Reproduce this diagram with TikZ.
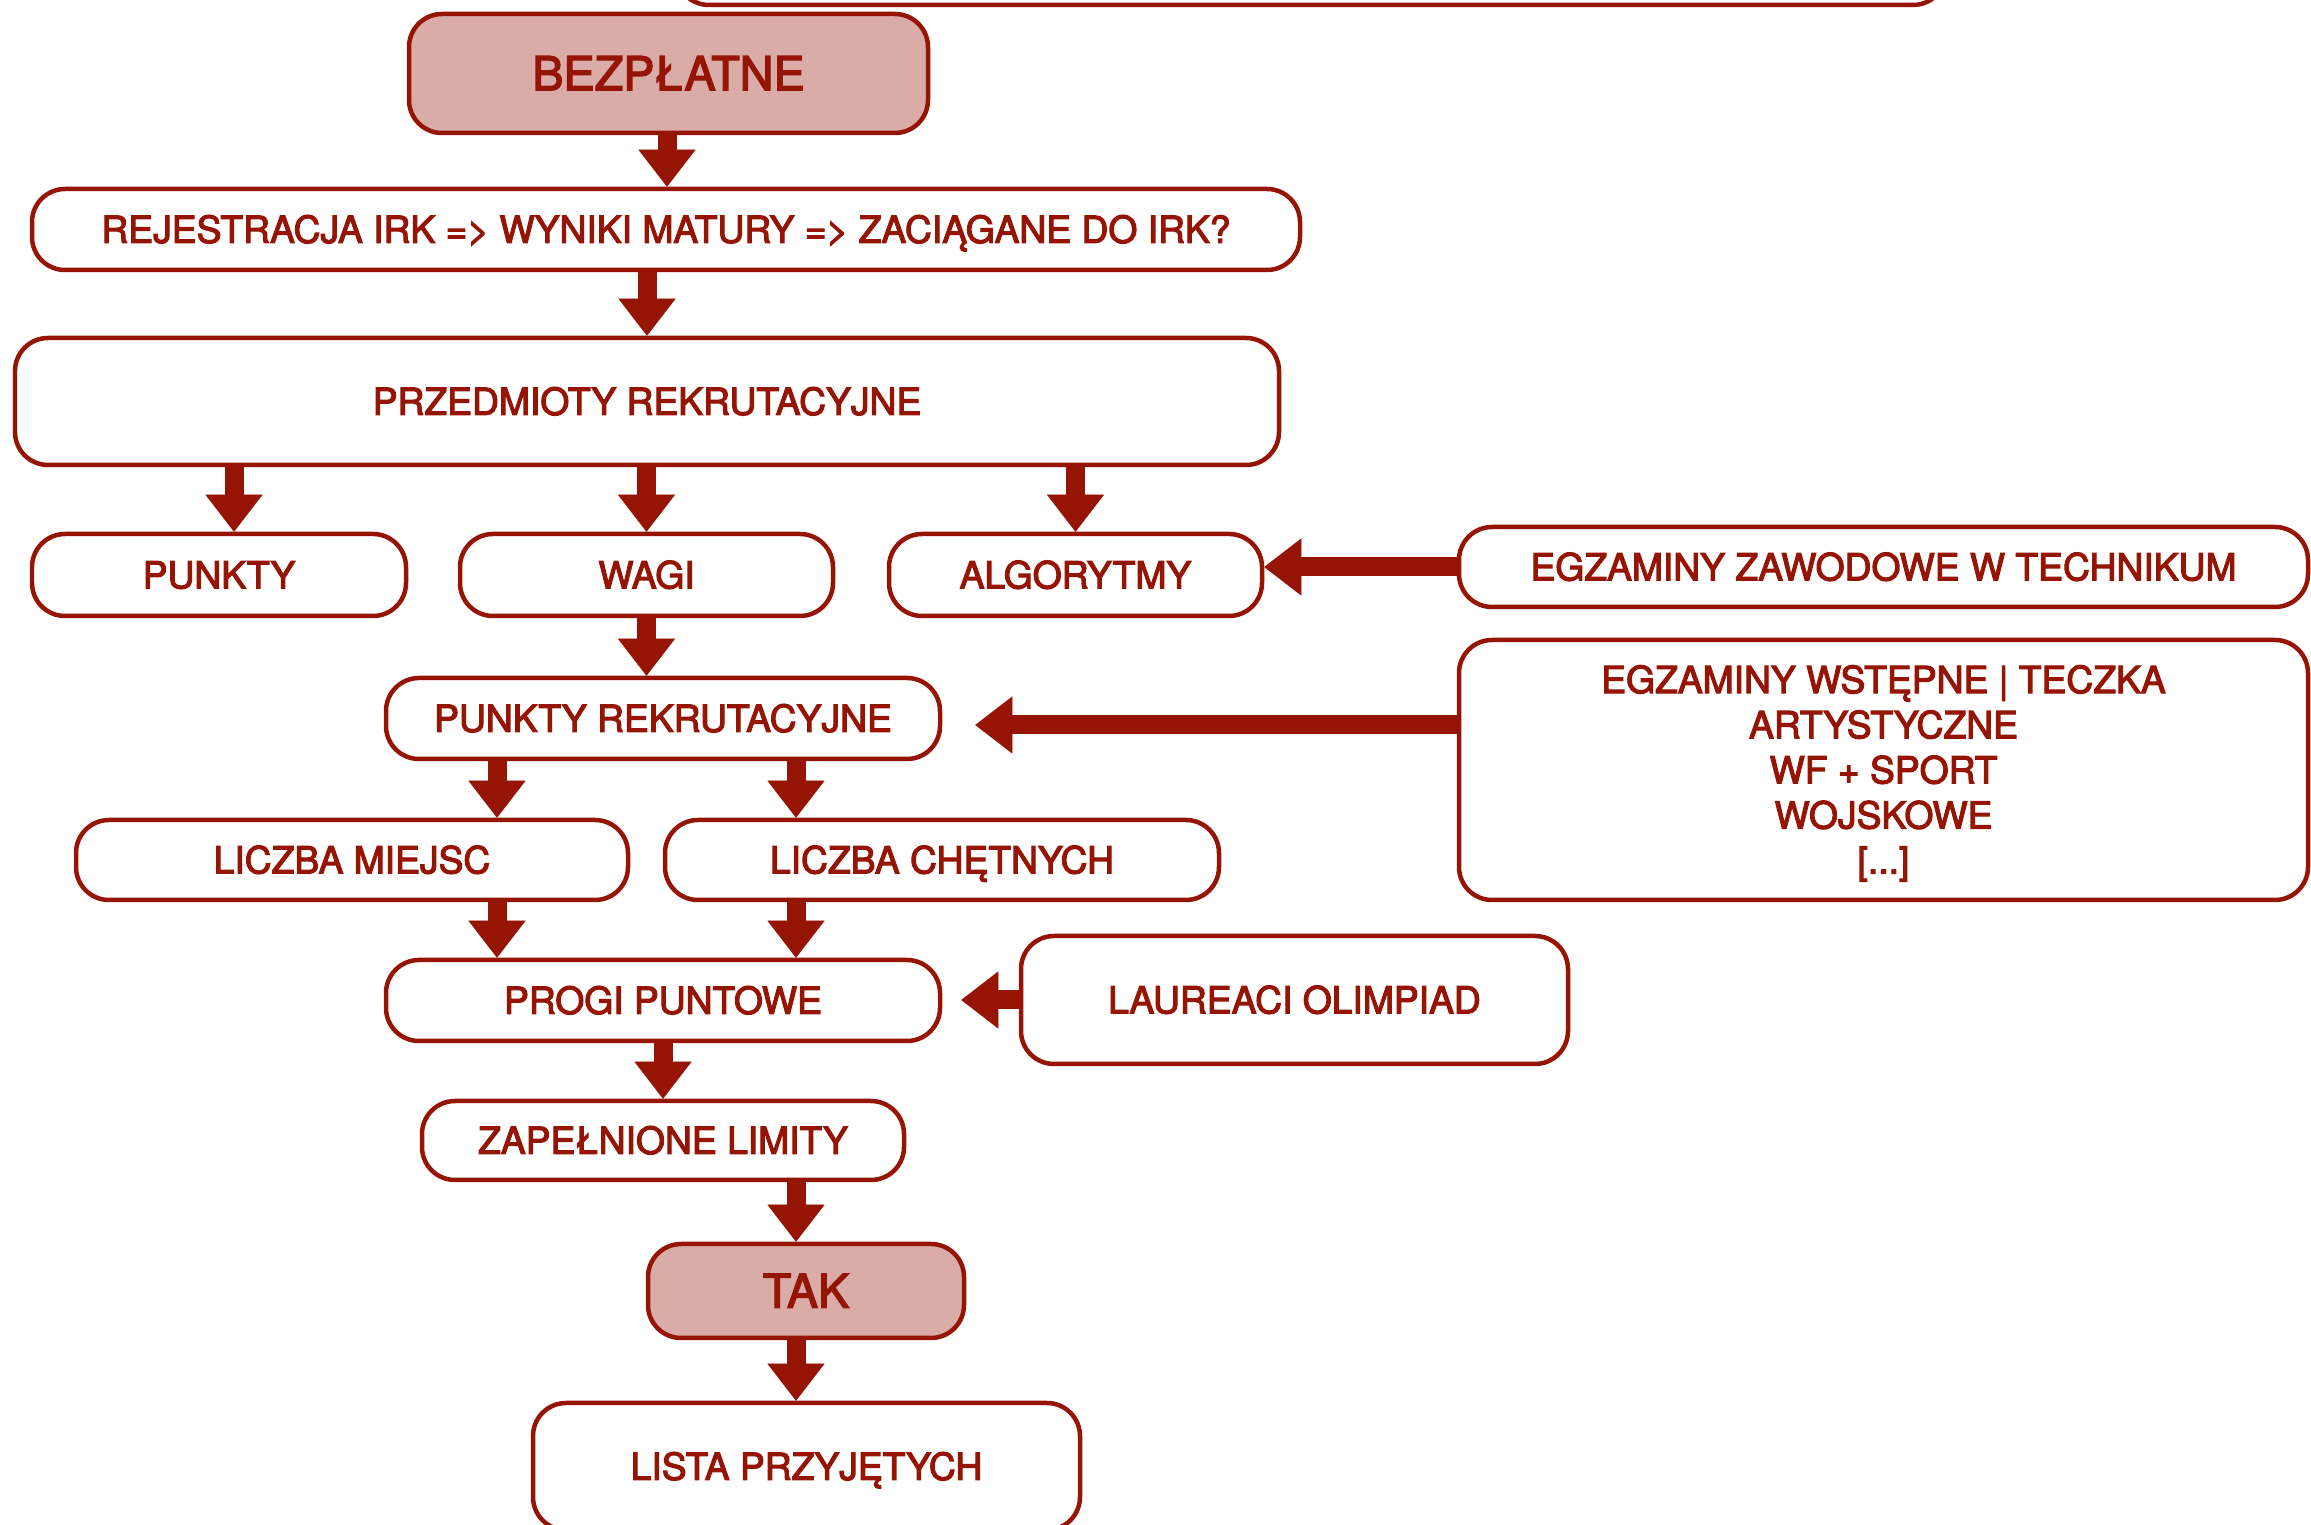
\documentclass[tikz,border=0pt]{standalone}
\usepackage{fontspec}
\setmainfont{TeX Gyre Heros}[UprightFeatures={FakeBold=3}]
\usetikzlibrary{arrows.meta}
\definecolor{dred}{RGB}{150,20,4}
\definecolor{pinkf}{RGB}{217,172,168}
\newcommand{\bodyfont}{\fontsize{10.6}{12.85}\selectfont}
\newcommand{\bigfont}{\fontsize{13.3}{16}\selectfont}
\tikzset{
  boxbase/.style={draw=dred, line width=0.045cm, rounded corners=0.33cm, fill=white,
    text=dred, font=\bodyfont, inner sep=0pt, align=center},
  box/.style={boxbase, text height=7.6pt, text depth=0pt},
  hot/.style={boxbase, fill=pinkf, font=\bigfont, text height=9.55pt, text depth=0pt},
  arr/.style={draw=dred, line width=0.19cm,
    -{Triangle[length=0.37cm, width=0.57cm, line width=0.01pt]}}
}
\begin{document}
\begin{tikzpicture}
\useasboundingbox (0,0) rectangle (23.11,-15.25);
\clip (0,0) rectangle (23.11,-15.25);
\node[box, minimum width=12.70cm, minimum height=1.00cm] (topbox) at (13.11,0.45) {};
\node[hot, minimum width=5.19cm, minimum height=1.19cm] (bez) at (6.685,-0.735) {BEZPŁATNE};
\node[box, minimum width=12.68cm, minimum height=0.81cm] (rej) at (6.66,-2.295) {REJESTRACJA IRK => WYNIKI MATURY => ZACIĄGANE DO IRK?};
\node[box, minimum width=12.64cm, minimum height=1.27cm] (prz) at (6.47,-4.015) {PRZEDMIOTY REKRUTACYJNE};
\node[box, minimum width=3.74cm, minimum height=0.82cm] (pun) at (2.19,-5.75) {PUNKTY};
\node[box, minimum width=3.73cm, minimum height=0.82cm] (wag) at (6.465,-5.75) {WAGI};
\node[box, minimum width=3.73cm, minimum height=0.82cm] (alg) at (10.755,-5.75) {ALGORYTMY};
\node[box, minimum width=8.49cm, minimum height=0.80cm] (ezaw) at (18.835,-5.67) {EGZAMINY ZAWODOWE W TECHNIKUM};
\node[box, minimum width=5.54cm, minimum height=0.81cm] (pr) at (6.63,-7.185) {PUNKTY REKRUTACYJNE};
\node[boxbase, minimum width=8.49cm, minimum height=2.60cm, text height=59pt, text depth=0pt] (ewst) at (18.835,-7.70) {EGZAMINY WSTĘPNE | TECZKA\\ARTYSTYCZNE\\WF + SPORT\\WOJSKOWE\\{}[...]};
\node[box, minimum width=5.52cm, minimum height=0.80cm] (lm) at (3.52,-8.60) {LICZBA MIEJSC};
\node[box, minimum width=5.54cm, minimum height=0.80cm] (lc) at (9.42,-8.60) {LICZBA CHĘTNYCH};
\node[box, minimum width=5.54cm, minimum height=0.81cm] (pp) at (6.63,-10.005) {PROGI PUNTOWE};
\node[box, minimum width=5.47cm, minimum height=1.28cm] (lau) at (12.945,-10.00) {LAUREACI OLIMPIAD};
\node[box, minimum width=4.82cm, minimum height=0.79cm] (zap) at (6.63,-11.405) {ZAPEŁNIONE LIMITY};
\node[hot, minimum width=3.16cm, minimum height=0.94cm] (tak) at (8.06,-12.91) {TAK};
\node[box, minimum width=5.47cm, minimum height=1.27cm] (lista) at (8.065,-14.665) {LISTA PRZYJĘTYCH};
% connectors
\draw[arr] (bez.south -| 6.67,0) -- (rej.north -| 6.67,0);
\draw[arr] (rej.south -| prz.north) -- (prz.north);
\draw[arr] (prz.south -| 2.34,0) -- (pun.north -| 2.34,0);
\draw[arr] (prz.south -| wag.north) -- (wag.north);
\draw[arr] (prz.south -| alg.north) -- (alg.north);
\draw[arr] (wag.south) -- (pr.north -| wag.south);
\draw[arr] (ezaw.west) -- (alg.east |- ezaw.west);
\draw[arr, shorten >=0.33cm] (ewst.west |- 0,-7.25) -- (pr.east |- 0,-7.25);
\draw[arr] (pr.south -| 4.97,0) -- (lm.north -| 4.97,0);
\draw[arr] (pr.south -| 7.96,0) -- (lc.north -| 7.96,0);
\draw[arr] (lm.south -| 4.97,0) -- (pp.north -| 4.97,0);
\draw[arr] (lc.south -| 7.96,0) -- (pp.north -| 7.96,0);
\draw[arr, shorten >=0.19cm] (lau.west) -- (pp.east |- lau.west);
\draw[arr] (pp.south) -- (zap.north);
\draw[arr] (zap.south -| 7.96,0) -- (tak.north -| 7.96,0);
\draw[arr] (tak.south -| 7.96,0) -- (lista.north -| 7.96,0);
\end{tikzpicture}
\end{document}
